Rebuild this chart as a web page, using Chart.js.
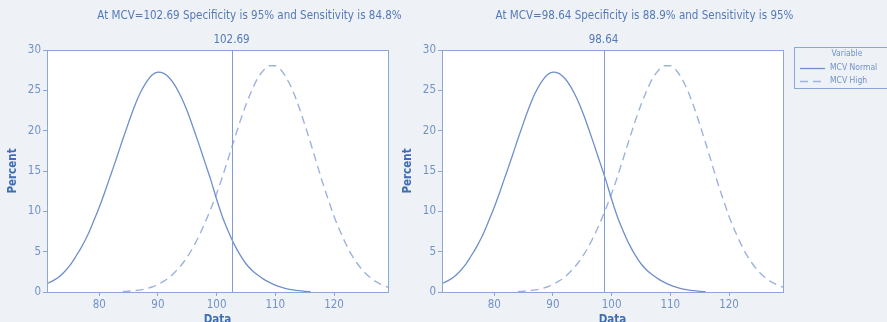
<!DOCTYPE html>
<html><head><meta charset="utf-8">
<script src="https://cdn.jsdelivr.net/npm/chart.js@4/dist/chart.umd.min.js"></script>
<style>
html,body{margin:0;padding:0;background:#eef2f7;overflow:hidden;width:887px;height:322px}
canvas{position:absolute;top:0}
#a{left:0}
#b{left:400px}
</style></head><body>
<canvas id="a" width="420" height="340"></canvas>
<canvas id="b" width="487" height="340"></canvas>
<script>
// ---- data ----
const xValues = [71,72,73,74,75,76,77,78,79,80,81,82,83,84,85,86,87,88,89,90,91,92,93,94,95,96,97,98,99,100,101,102,103,104,105,106,107,108,109,110,111,112,113,114,115,116,117,118,119,120,121,122,123,124,125,126,127,128,129,130];
const mcvNormal = [1.0,1.35,1.8,2.45,3.3,4.4,5.6,7.0,8.7,10.5,12.5,14.6,16.7,18.9,21.0,23.0,24.7,26.0,26.9,27.25,27.1,26.5,25.5,24.1,22.4,20.4,18.3,16.1,13.9,11.5,9.3,7.5,5.9,4.6,3.5,2.7,2.1,1.6,1.2,0.85,0.6,0.4,0.26,0.16,0.09,0.04,null,null,null,null,null,null,null,null,null,null,null,null,null,null];
const mcvHigh = [null,null,null,null,null,null,null,null,null,null,null,null,null,0.05,0.1,0.17,0.26,0.4,0.62,0.95,1.35,1.85,2.55,3.35,4.35,5.55,6.95,8.55,10.3,12.2,14.3,16.6,18.9,21.15,23.2,25.0,26.5,27.5,28.05,28.05,27.5,26.4,24.9,23.0,20.8,18.5,16.1,13.7,11.5,9.4,7.6,6.0,4.6,3.5,2.6,1.9,1.35,0.95,0.65,0.45];
const seriesNames = ['MCV Normal','MCV High'];
const cutoffs = [102.69, 98.64];
const titles = ['At MCV=102.69 Specificity is 95% and Sensitivity is 84.8%','At MCV=98.64 Specificity is 88.9% and Sensitivity is 95%'];
const cutLabels = ['102.69','98.64'];
const xTicks = [80,90,100,110,120];
const yTicks = [0,5,10,15,20,25,30];
const legendTitle = 'Variable';
const xTitle = 'Data';
const yTitle = 'Percent';

// ---- styles ----
const FONT = '"DejaVu Sans Condensed","DejaVu Sans",sans-serif';
const C_LINE = '#6f8fca';
const C_FRAME = '#8ca7d6';
const C_TICK = '#7191c7';
const C_TITLE = '#5479b8';
const C_AXT = '#406db2';

function pts(arr){ return xValues.map((x,i)=>({x:x,y:arr[i]})); }

function makeChart(id, idx, yWidth, padRight, legend){
  const cut = cutoffs[idx];
  const decor = {
    id:'decor'+idx,
    beforeDraw(chart){
      const a = chart.chartArea, ctx = chart.ctx;
      ctx.save(); ctx.fillStyle = '#ffffff';
      ctx.fillRect(a.left, a.top, a.right-a.left, a.bottom-a.top);
      ctx.restore();
    },
    afterDraw(chart){
      const a = chart.chartArea, ctx = chart.ctx, xs = chart.scales.x;
      ctx.save();
      ctx.strokeStyle = C_FRAME; ctx.lineWidth = 1;
      ctx.strokeRect(Math.round(a.left)+0.5, Math.round(a.top)+0.5, Math.round(a.right-a.left), Math.round(a.bottom-a.top));
      // cutoff line
      const cx = Math.round(xs.getPixelForValue(cut))+0.5;
      ctx.strokeStyle = '#7f9dd2';
      ctx.beginPath(); ctx.moveTo(cx, a.top); ctx.lineTo(cx, a.bottom); ctx.stroke();
      ctx.fillStyle = C_TITLE; ctx.font = '11.5px '+FONT;
      ctx.textAlign = 'center'; ctx.textBaseline = 'middle';
      ctx.fillText(cutLabels[idx], cx-1, 40);
      // title
      ctx.fillText(titles[idx], (a.left+a.right)/2+32, 16);
      // axis titles
      ctx.fillStyle = C_AXT; ctx.font = 'bold 11.5px '+FONT;
      ctx.textBaseline = 'top';
      ctx.fillText(xTitle, (a.left+a.right)/2, 314);
      ctx.save();
      ctx.translate(a.left-34, (a.top+a.bottom)/2);
      ctx.rotate(-Math.PI/2);
      ctx.textBaseline = 'middle';
      ctx.fillText(yTitle, 0, 0);
      ctx.restore();
      if (legend){
        const lx = 394, ly = 47;
        ctx.strokeStyle = C_FRAME;
        ctx.strokeRect(lx+0.5, ly+0.5, 120, 41);
        ctx.font = '8.5px '+FONT; ctx.fillStyle = C_TICK;
        ctx.textBaseline = 'middle'; ctx.textAlign = 'center';
        ctx.fillText(legendTitle, lx+53, ly+7);
        ctx.textAlign = 'left';
        chart.data.datasets.forEach((ds,i)=>{
          const yy = ly+21+i*13;
          ctx.strokeStyle = ds.borderColor; ctx.lineWidth = 1.3;
          ctx.setLineDash(ds.borderDash || []);
          ctx.beginPath(); ctx.moveTo(lx+6, yy+0.5); ctx.lineTo(lx+31, yy+0.5); ctx.stroke();
          ctx.setLineDash([]);
          ctx.fillText(ds.label, lx+36, yy);
        });
      }
      ctx.restore();
    }
  };
  return new Chart(document.getElementById(id), {
    type:'line',
    data:{datasets:[
      {label:seriesNames[0], data:pts(mcvNormal), borderColor:C_LINE, borderWidth:1.3, pointRadius:0, cubicInterpolationMode:'monotone', spanGaps:false},
      {label:seriesNames[1], data:pts(mcvHigh), borderColor:'#9db3dc', borderWidth:1.4, borderDash:[8,5], pointRadius:0, cubicInterpolationMode:'monotone', spanGaps:false}
    ]},
    options:{
      responsive:false, animation:false, devicePixelRatio:1,
      layout:{padding:{left:0, right:padRight, top:50, bottom:0}},
      plugins:{legend:{display:false}, title:{display:false}, tooltip:{enabled:false}},
      scales:{
        x:{type:'linear', min:71.1, max:129.2,
           afterBuildTicks(s){ s.ticks = xTicks.map(v=>({value:v})); },
           afterFit(s){ s.height = 48; },
           border:{display:false},
           grid:{drawOnChartArea:false, drawTicks:true, tickLength:4, color:C_FRAME},
           ticks:{color:C_TICK, font:{family:FONT, size:11.5}, padding:2, maxRotation:0}},
        y:{type:'linear', min:0, max:30,
           afterBuildTicks(s){ s.ticks = yTicks.map(v=>({value:v})); },
           afterFit(s){ s.width = yWidth; },
           border:{display:false},
           grid:{drawOnChartArea:false, drawTicks:true, tickLength:4, color:C_FRAME},
           ticks:{color:C_TICK, font:{family:FONT, size:11.5}, padding:2}}
      }
    },
    plugins:[decor]
  });
}
makeChart('a', 0, 47, 32, false);
makeChart('b', 1, 42, 104, true);
</script>
</body></html>
